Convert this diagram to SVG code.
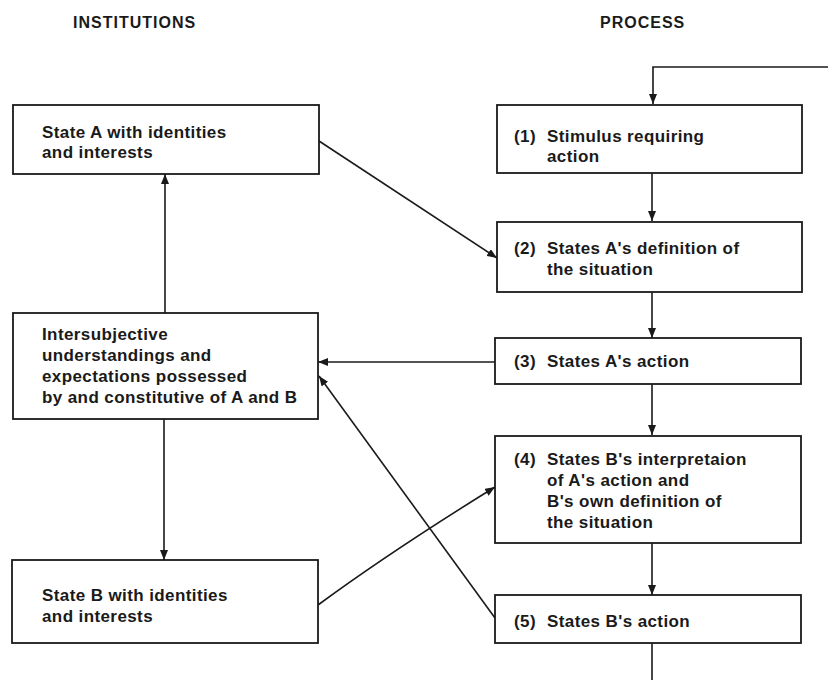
<svg xmlns="http://www.w3.org/2000/svg" width="828" height="680" viewBox="0 0 828 680">
<defs>
<marker id="ah" markerWidth="10" markerHeight="8" refX="10" refY="4" orient="auto" markerUnits="userSpaceOnUse">
<path d="M0,0 L10,4 L0,8 Z" fill="#1a1a1a"/>
</marker>
<style>
.box{fill:#fff;stroke:#1a1a1a;stroke-width:1.8}
.t{font-family:"Liberation Sans",Arial,sans-serif;font-weight:bold;font-size:17px;letter-spacing:0.4px;fill:#1a1a1a}
.h{font-family:"Liberation Sans",Arial,sans-serif;font-weight:bold;font-size:16px;letter-spacing:1px;fill:#1a1a1a}
.c{fill:none;stroke:#1a1a1a;stroke-width:1.6}
</style>
</defs>
<rect width="828" height="680" fill="#fff"/>
<text class="h" x="73" y="28">INSTITUTIONS</text>
<text class="h" x="600" y="28">PROCESS</text>
<g id="connectors">
<path class="c" d="M828,67 L653,67 L653,104" marker-end="url(#ah)"/>
<path class="c" d="M652,173 L652,221" marker-end="url(#ah)"/>
<path class="c" d="M652,292 L652,338" marker-end="url(#ah)"/>
<path class="c" d="M652,384 L652,435" marker-end="url(#ah)"/>
<path class="c" d="M652,543 L652,595" marker-end="url(#ah)"/>
<path class="c" d="M652,643 L652,680"/>
<path class="c" d="M319,141 L497,258" marker-end="url(#ah)"/>
<path class="c" d="M165,313 L165,174" marker-end="url(#ah)"/>
<path class="c" d="M495,362 L318,362" marker-end="url(#ah)"/>
<path class="c" d="M495,618 L319,376" marker-end="url(#ah)"/>
<path class="c" d="M164,419 L164,560" marker-end="url(#ah)"/>
<path class="c" d="M318,605 Q390,552 495,487" marker-end="url(#ah)"/>
</g>
<g id="stateA">
<rect class="box" x="13" y="105" width="306" height="69"/>
<text class="t" x="42" y="138">State A with identities</text>
<text class="t" x="42" y="158">and interests</text>
</g>
<g id="intersubjective">
<rect class="box" x="13" y="313" width="305" height="106"/>
<text class="t" x="42" y="340">Intersubjective</text>
<text class="t" x="42" y="361">understandings and</text>
<text class="t" x="42" y="382">expectations possessed</text>
<text class="t" x="42" y="403">by and constitutive of A and B</text>
</g>
<g id="stateB">
<rect class="box" x="12" y="560" width="306" height="83"/>
<text class="t" x="42" y="601">State B with identities</text>
<text class="t" x="42" y="622">and interests</text>
</g>
<g id="p1">
<rect class="box" x="497" y="105" width="305" height="68"/>
<text class="t" x="514" y="142">(1)</text>
<text class="t" x="547" y="142">Stimulus requiring</text>
<text class="t" x="547" y="162">action</text>
</g>
<g id="p2">
<rect class="box" x="497" y="222" width="305" height="70"/>
<text class="t" x="514" y="254">(2)</text>
<text class="t" x="547" y="254">States A's definition of</text>
<text class="t" x="547" y="275">the situation</text>
</g>
<g id="p3">
<rect class="box" x="495" y="338" width="306" height="46"/>
<text class="t" x="514" y="367">(3)</text>
<text class="t" x="547" y="367">States A's action</text>
</g>
<g id="p4">
<rect class="box" x="495" y="436" width="306" height="107"/>
<text class="t" x="514" y="465">(4)</text>
<text class="t" x="547" y="465">States B's interpretaion</text>
<text class="t" x="547" y="486">of A's action and</text>
<text class="t" x="547" y="507">B's own definition of</text>
<text class="t" x="547" y="528">the situation</text>
</g>
<g id="p5">
<rect class="box" x="495" y="595" width="306" height="48"/>
<text class="t" x="514" y="627">(5)</text>
<text class="t" x="547" y="627">States B's action</text>
</g>
</svg>
